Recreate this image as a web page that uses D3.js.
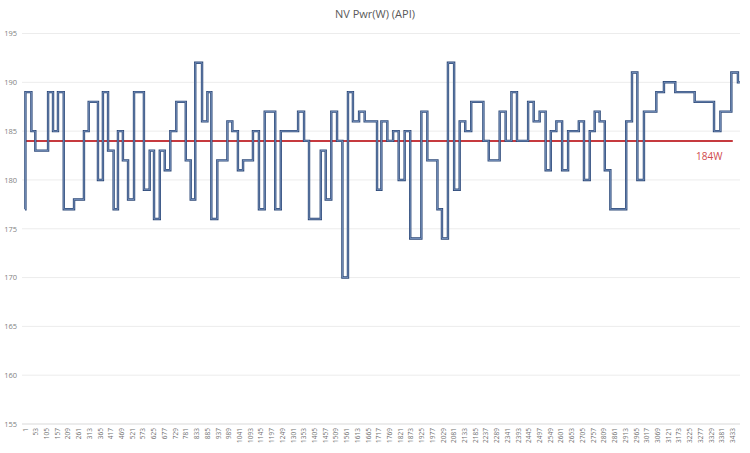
<!DOCTYPE html>
<html>
<head>
<meta charset="utf-8">
<script src="https://cdn.jsdelivr.net/npm/d3@7"></script>
<style>
  html, body { margin: 0; padding: 0; background: #ffffff; }
  svg { display: block; font-family: "Open Sans", "Liberation Sans", sans-serif; }
</style>
</head>
<body>
<svg id="chart" width="750" height="453"></svg>
<script>
// Sample index where each step begins, and the power value (W) held from there
const stepIndex = [1, 3, 32, 51, 113, 137, 161, 189, 239, 287, 310, 355, 379, 404, 431, 452, 476, 501, 530, 578,
  606, 627, 655, 679, 706, 735, 781, 805, 827, 860, 886, 905, 934, 983, 1007, 1034, 1059, 1107, 1136, 1164,
  1215, 1242, 1326, 1355, 1379, 1436, 1460, 1487, 1515, 1541, 1568, 1592, 1622, 1649, 1709, 1730, 1759, 1787, 1814, 1843,
  1870, 1924, 1953, 2002, 2024, 2053, 2083, 2110, 2137, 2166, 2225, 2251, 2304, 2333, 2361, 2388, 2442, 2469, 2498, 2527,
  2552, 2579, 2607, 2636, 2688, 2713, 2741, 2765, 2789, 2814, 2841, 2918, 2946, 2972, 3004, 3064, 3101, 3156, 3250, 3344,
  3375, 3428, 3460, 3469];
const stepValue = [177, 189, 185, 183, 189, 185, 189, 177, 178, 185, 188, 180, 189, 183, 177, 185, 182, 178, 189, 179,
  183, 176, 183, 181, 185, 188, 182, 178, 192, 186, 189, 176, 182, 186, 185, 181, 182, 185, 177, 187,
  177, 185, 187, 184, 176, 183, 178, 187, 184, 170, 189, 186, 187, 186, 179, 186, 184, 185, 180, 185,
  174, 187, 182, 177, 174, 192, 179, 186, 185, 188, 184, 182, 187, 184, 189, 184, 188, 186, 187, 181,
  185, 186, 181, 185, 186, 180, 185, 187, 186, 181, 177, 186, 191, 180, 187, 189, 190, 189, 188, 185,
  187, 191, 190, 190];
const yTicks = [155, 160, 165, 170, 175, 180, 185, 190, 195];
const xTickLabels = [1, 53, 105, 157, 209, 261, 313, 365, 417, 469, 521, 573, 625, 677, 729, 781, 833, 885, 937, 989,
  1041, 1093, 1145, 1197, 1249, 1301, 1353, 1405, 1457, 1509, 1561, 1613, 1665, 1717, 1769, 1821, 1873, 1925, 1977, 2029,
  2081, 2133, 2185, 2237, 2289, 2341, 2393, 2445, 2497, 2549, 2601, 2653, 2705, 2757, 2809, 2861, 2913, 2965, 3017, 3069,
  3121, 3173, 3225, 3277, 3329, 3381, 3433];
const refValue = 184;
const refLabel = "184W";
const titleText = "NV Pwr(W) (API)";

(function () {
const svg = d3.select("#chart");
const mLeft = 25, mRight = 740, mTop = 33.5, mBottom = 424;

const x = d3.scaleLinear().domain([1, 3470]).range([mLeft, mRight]);
const y = d3.scaleLinear().domain([155, 195]).range([mBottom, mTop]);

// Title
svg.append("text")
  .attr("x", 375).attr("y", 18)
  .attr("text-anchor", "middle")
  .attr("font-size", 11)
  .attr("fill", "#595959")
  .text(titleText);

// Gridlines
svg.append("g")
  .selectAll("line")
  .data(yTicks)
  .join("line")
  .attr("x1", mLeft - 3).attr("x2", mRight)
  .attr("y1", d => y(d)).attr("y2", d => y(d))
  .attr("stroke", d => d === 155 ? "#d9d9d9" : "#ececec")
  .attr("stroke-width", 1);

// Y axis labels
const yAxis = d3.axisLeft(y).tickValues(yTicks).tickSize(0).tickPadding(0);
const gy = svg.append("g").attr("transform", `translate(${mLeft - 8},0)`).call(yAxis);
gy.select(".domain").remove();
gy.selectAll("text").attr("font-size", 7.5).attr("fill", "#7f7f7f")
  .attr("font-family", "'Open Sans', 'Liberation Sans', sans-serif");

// X axis labels (rotated)
const xAxis = d3.axisBottom(x).tickValues(xTickLabels).tickSize(0).tickPadding(0).tickFormat(d => d);
const gx = svg.append("g").attr("transform", `translate(0,${mBottom + 4})`).call(xAxis);
gx.select(".domain").remove();
gx.selectAll("text")
  .attr("font-size", 6.5)
  .attr("fill", "#6f6f6f")
  .attr("font-family", "'Open Sans', 'Liberation Sans', sans-serif")
  .attr("text-anchor", "end")
  .attr("dy", "0.32em")
  .attr("transform", "rotate(-90)")
  .attr("y", 0)
  .attr("x", 0);

// Data points
const pts = stepIndex.map((d, i) => [d, stepValue[i]]);

const line = d3.line()
  .x(d => x(d[0]))
  .y(d => y(d[1]))
  .curve(d3.curveStepAfter);

// Reference line
svg.append("line")
  .attr("x1", x(1)).attr("x2", x(3435))
  .attr("y1", y(refValue)).attr("y2", y(refValue))
  .attr("stroke", "#c63a3f")
  .attr("stroke-width", 2);

svg.append("path")
  .datum(pts)
  .attr("d", line)
  .attr("fill", "none")
  .attr("stroke", "#2f4a78")
  .attr("stroke-width", 2.4)
  .attr("stroke-linejoin", "miter");

svg.append("path")
  .datum(pts)
  .attr("d", line)
  .attr("fill", "none")
  .attr("stroke", "#8ea9d2")
  .attr("stroke-width", 0.7);

svg.append("text")
  .attr("x", 696).attr("y", 160)
  .attr("font-size", 10)
  .attr("fill", "#cf4a4d")
  .text(refLabel);
})();
</script>
</body>
</html>
